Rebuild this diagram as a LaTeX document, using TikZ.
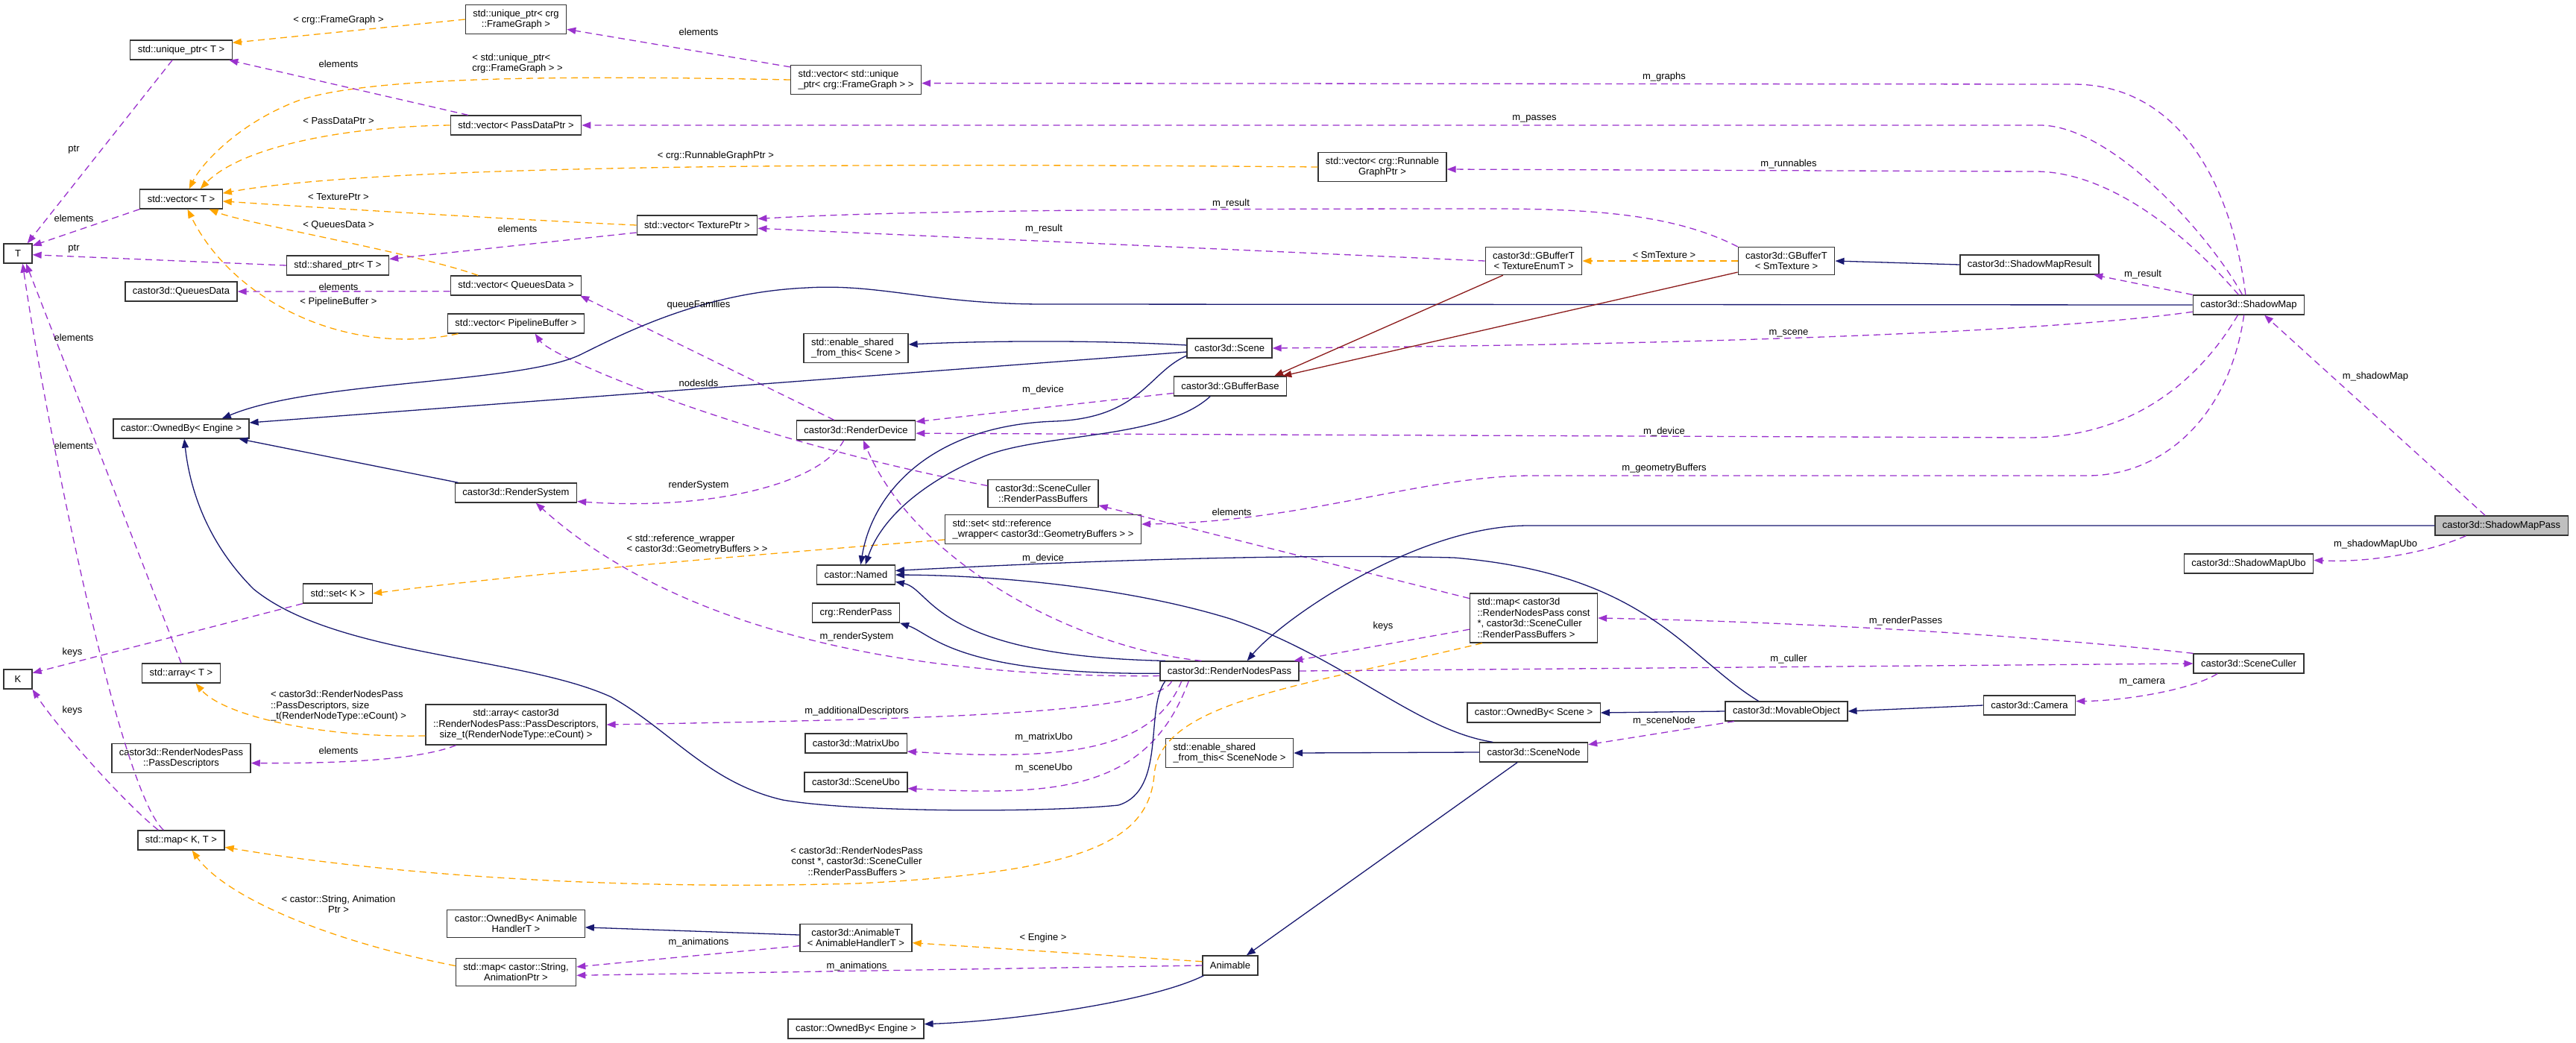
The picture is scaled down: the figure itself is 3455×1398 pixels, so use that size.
\documentclass[tikz,border=0pt]{standalone}
\usepackage{fontspec}
\setmainfont{Liberation Sans}
\usetikzlibrary{arrows.meta}
\definecolor{usecol}{HTML}{9A32CD}
\definecolor{tplcol}{HTML}{FFA500}
\definecolor{inhcol}{HTML}{191970}
\definecolor{privcol}{HTML}{8B1A1A}
\newcommand{\dxfont}{\fontsize{13pt}{14.5pt}\selectfont}

\begin{document}
\begin{tikzpicture}[x=1pt, y=-1pt,
    cls/.style={draw=black!80, line width=1.3pt, fill=white, font=\dxfont,
        inner xsep=10pt, inner ysep=6.5pt, minimum height=26pt, minimum width=38pt, align=center},
    clsl/.style={cls, align=left},
    focus/.style={cls, fill=black!25},
    lbl/.style={font=\dxfont, inner sep=0pt, align=center},
    lbll/.style={lbl, align=left},
    usage/.style={draw=usecol, line width=1.3pt, dash pattern=on 9pt off 6pt,
        -{Triangle[length=12pt,width=9pt]}},
    tmpl/.style={usage, draw=tplcol},
    inh/.style={draw=inhcol, line width=1.3pt, -{Triangle[length=12pt,width=9pt]}},
    priv/.style={inh, draw=privcol}]

    % Frame
    \useasboundingbox (0,0) rectangle (3455,1398);

    % Std containers, left part
    \node[cls] (uptrFG) at (692,26) {std::unique\_ptr< crg\\::FrameGraph >};
    \node[cls] (uptrT) at (243,67) {std::unique\_ptr< T >};
    \node[cls] (vecPass) at (692,168) {std::vector< PassDataPtr >};
    \node[clsl] (vecUFG) at (1148,107) {std::vector< std::unique\\\_ptr< crg::FrameGraph > >};
    \node[cls] (vecRun) at (1854,224) {std::vector< crg::Runnable\\GraphPtr >};
    \node[cls] (vecT) at (243,267) {std::vector< T >};
    \node[cls] (vecTex) at (935,302) {std::vector< TexturePtr >};
    \node[cls] (T) at (24,340) {T};
    \node[cls] (sptrT) at (453,356) {std::shared\_ptr< T >};
    \node[cls] (queues) at (243,391) {castor3d::QueuesData};
    \node[cls] (vecQueues) at (692,383) {std::vector< QueuesData >};
    \node[cls] (vecPipe) at (692,434) {std::vector< PipelineBuffer >};
    \node[cls] (setK) at (453,796) {std::set< K >};
    \node[cls] (K) at (24,911) {K};
    \node[cls] (arrayT) at (243,903) {std::array< T >};
    \node[cls] (arrayPD) at (692,972) {std::array< castor3d\\::RenderNodesPass::PassDescriptors,\\size\_t(RenderNodeType::eCount) >};
    \node[cls] (passDesc) at (243,1017) {castor3d::RenderNodesPass\\::PassDescriptors};
    \node[cls] (mapKT) at (243,1127) {std::map< K, T >};
    \node[cls] (ownedAnim) at (692,1239) {castor::OwnedBy< Animable\\HandlerT >};
    \node[cls] (mapAnim) at (692,1304) {std::map< castor::String,\\AnimationPtr >};
    \node[cls] (ownedEngine) at (243,575) {castor::OwnedBy< Engine >};
    \node[cls] (renderSystem) at (692,661) {castor3d::RenderSystem};

    % Middle
    \node[clsl] (esftScene) at (1148,467) {std::enable\_shared\\\_from\_this< Scene >};
    \node[cls] (device) at (1148,577) {castor3d::RenderDevice};
    \node[cls] (rpBuffers) at (1399,662) {castor3d::SceneCuller\\::RenderPassBuffers};
    \node[clsl] (setRef) at (1399,710) {std::set< std::reference\\\_wrapper< castor3d::GeometryBuffers > >};
    \node[cls] (named) at (1148,771) {castor::Named};
    \node[cls] (renderPass) at (1148,822) {crg::RenderPass};
    \node[cls] (matrixUbo) at (1148,997) {castor3d::MatrixUbo};
    \node[cls] (sceneUbo) at (1148,1049) {castor3d::SceneUbo};
    \node[cls] (animableT) at (1148,1258) {castor3d::AnimableT\\< AnimableHandlerT >};
    \node[cls] (ownedEngine2) at (1148,1380) {castor::OwnedBy< Engine >};
    \node[cls] (scene) at (1649,467) {castor3d::Scene};
    \node[cls] (gbufBase) at (1650,518) {castor3d::GBufferBase};
    \node[cls] (nodesPass) at (1649,900) {castor3d::RenderNodesPass};
    \node[clsl] (esftNode) at (1649,1010) {std::enable\_shared\\\_from\_this< SceneNode >};
    \node[cls] (animable) at (1650,1295) {Animable};

    % Right part
    \node[cls] (gbufTE) at (2057,350) {castor3d::GBufferT\\< TextureEnumT >};
    \node[cls] (gbufSM) at (2396,350) {castor3d::GBufferT\\< SmTexture >};
    \node[clsl] (mapRNP) at (2057,829) {std::map< castor3d\\::RenderNodesPass const\\ *, castor3d::SceneCuller\\ ::RenderPassBuffers >};
    \node[cls] (ownedScene) at (2057,956) {castor::OwnedBy< Scene >};
    \node[cls] (sceneNode) at (2057,1009) {castor3d::SceneNode};
    \node[cls] (movable) at (2396,954) {castor3d::MovableObject};
    \node[cls] (smResult) at (2722,355) {castor3d::ShadowMapResult};
    \node[cls] (camera) at (2722,946) {castor3d::Camera};
    \node[cls] (shadowMap) at (3016,409) {castor3d::ShadowMap};
    \node[cls] (smUbo) at (3016,756) {castor3d::ShadowMapUbo};
    \node[cls] (culler) at (3016,890) {castor3d::SceneCuller};
    \node[focus] (shadowMapPass) at (3355,705) {castor3d::ShadowMapPass};

    % Template instances
    \draw[tmpl] (uptrFG.west) -- (uptrT.8);
    \draw[tmpl] (vecUFG.west) .. controls (800,102) and (500,100) .. (400,135) .. controls (320,165) and (270,220) .. (vecT.52);
    \draw[tmpl] (vecPass.west) .. controls (450,170) and (320,200) .. (vecT.28);
    \draw[tmpl] (vecRun.west) .. controls (1100,218) and (500,222) .. (vecT.8);
    \draw[tmpl] (vecTex.west) .. controls (700,295) and (450,280) .. (vecT.-3);
    \draw[tmpl] (vecQueues.165) .. controls (560,340) and (330,300) .. (vecT.-20);
    \draw[tmpl] (vecPipe.190) .. controls (460,480) and (310,400) .. (vecT.-58);
    \draw[tmpl] (setRef.186) .. controls (1000,745) and (700,770) .. (setK.east);
    \draw[tmpl] (arrayPD.187) .. controls (430,990) and (300,960) .. (arrayT.-35);
    \draw[tmpl] (mapRNP.206) .. controls (1750,920) and (1555,940) .. (1548,1040) .. controls (1540,1130) and (1450,1170) .. (1150,1185) .. controls (800,1195) and (500,1170) .. (mapKT.-9);
    \draw[tmpl] (mapAnim.174) .. controls (430,1260) and (300,1200) .. (mapKT.-43);
    \draw[tmpl] (animable.172) -- (animableT.-5);
    \draw[tmpl] (gbufSM.west) -- (gbufTE.east);

    % Usage
    \draw[usage] (uptrT.-131) -- (T.47);
    \draw[usage] (vecT.south west) -- (T.28);
    \draw[usage] (sptrT.west) -- (T.-5);
    \draw[usage] (vecPass.168) -- (uptrT.-12);
    \draw[usage] (vecUFG.169) -- (uptrFG.-11);
    \draw[usage] (vecTex.187) -- (sptrT.7);
    \draw[usage] (vecQueues.185) -- (queues.east);
    \draw[usage] (arrayT.north) -- (T.-51);
    \draw[usage] (mapKT.150) .. controls (160,1060) and (60,560) .. (T.-65);
    \draw[usage] (mapKT.156) .. controls (170,1080) and (80,980) .. (K.-35);
    \draw[usage] (setK.south west) -- (K.23);
    \draw[usage] (device.155) -- (vecQueues.-9);
    \draw[usage] (rpBuffers.172) .. controls (1000,590) and (740,480) .. (vecPipe.-28);
    \draw[usage] (device.-140) .. controls (1100,650) and (950,685) .. (renderSystem.-8);
    \draw[usage] (nodesPass.184) .. controls (1150,910) and (880,820) .. (renderSystem.-27);
    \draw[usage] (nodesPass.160) .. controls (1450,870) and (1230,760) .. (device.-54);
    \draw[usage] (gbufBase.187) -- (device.8);
    \draw[usage] (shadowMap.-137) .. controls (2950,510) and (2860,587) .. (2720,587) -- (device.-3);
    \draw[usage] (gbufSM.north west) .. controls (2250,290) and (2150,280) .. (2000,280) .. controls (1500,280) and (1200,283) .. (vecTex.6);
    \draw[usage] (gbufTE.west) -- (vecTex.-3);
    \draw[usage] (shadowMap.107) .. controls (2995,260) and (2930,113) .. (2780,113) -- (vecUFG.-3);
    \draw[usage] (shadowMap.122) .. controls (2960,310) and (2830,168) .. (2736,168) -- (vecPass.east);
    \draw[usage] (shadowMap.135) .. controls (2920,300) and (2820,230) .. (2730,230) -- (vecRun.-2);
    \draw[usage] (shadowMapPass.148) -- (shadowMap.-33);
    \draw[usage] (shadowMap.north west) -- (smResult.-9);
    \draw[usage] (shadowMap.187) .. controls (2750,445) and (2300,462) .. (scene.east);
    \draw[usage] (shadowMap.-115) .. controls (2990,560) and (2900,638) .. (2800,638) -- (2050,638) .. controls (1900,640) and (1750,700) .. (setRef.3);
    \draw[usage] (mapRNP.163) -- (rpBuffers.-12);
    \draw[usage] (mapRNP.190) -- (nodesPass.9);
    \draw[usage] (culler.north west) .. controls (2750,855) and (2450,835) .. (mapRNP.east);
    \draw[usage] (nodesPass.east) -- (culler.west);
    \draw[usage] (culler.-162) .. controls (2940,925) and (2850,940) .. (camera.5);
    \draw[usage] (movable.-169) -- (sceneNode.8);
    \draw[usage] (shadowMapPass.-164) .. controls (3260,740) and (3180,755) .. (smUbo.3);
    \draw[usage] (nodesPass.-170) .. controls (1550,960) and (1200,965) .. (arrayPD.east);
    \draw[usage] (arrayPD.-161) .. controls (560,1020) and (450,1024) .. (passDesc.-4);
    \draw[usage] (nodesPass.-168) .. controls (1545,1010) and (1420,1020) .. (matrixUbo.-9);
    \draw[usage] (nodesPass.-166) .. controls (1540,1060) and (1420,1068) .. (sceneUbo.-7);
    \draw[usage] (animableT.188) -- (mapAnim.5);
    \draw[usage] (animable.west) -- (mapAnim.-3);

    % Inheritance
    \draw[inh] (shadowMap.west) -- (1400,408) .. controls (1250,408) and (1180,380) .. (1082,386) .. controls (950,392) and (850,440) .. (780,475) .. controls (700,515) and (420,510) .. (ownedEngine.14);
    \draw[inh] (scene.185) -- (ownedEngine.5);
    \draw[inh] (scene.176) .. controls (1450,455) and (1300,458) .. (esftScene.4);
    \draw[inh] (renderSystem.170) -- (ownedEngine.-10);
    \draw[inh] (nodesPass.-171) .. controls (1535,950) and (1565,1060) .. (1500,1080) .. controls (1400,1090) and (1150,1090) .. (1050,1073) .. controls (950,1050) and (900,980) .. (820,935) .. controls (700,880) and (450,880) .. (340,790) .. controls (280,730) and (255,660) .. (ownedEngine.-73);
    \draw[inh] (nodesPass.171) .. controls (1250,880) and (1250,790) .. (named.-10);
    \draw[inh] (nodesPass.182) .. controls (1280,905) and (1250,850) .. (renderPass.-13);
    \draw[inh] (scene.-170) .. controls (1540,500) and (1530,560) .. (1416,565) .. controls (1250,570) and (1170,660) .. (named.65);
    \draw[inh] (gbufBase.-153) .. controls (1560,590) and (1400,580) .. (1320,612) .. controls (1230,650) and (1180,700) .. (named.47);
    \draw[inh] (movable.160) .. controls (2260,880) and (2210,770) .. (1950,748) .. controls (1700,742) and (1400,755) .. (named.6);
    \draw[inh] (sceneNode.166) .. controls (1900,980) and (1800,880) .. (1650,830) .. controls (1520,790) and (1350,772) .. (named.east);
    \draw[inh] (shadowMapPass.west) -- (2050,705) .. controls (1900,705) and (1720,830) .. (nodesPass.30);
    \draw[inh] (sceneNode.west) -- (esftNode.east);
    \draw[inh] (sceneNode.-148) -- (animable.32);
    \draw[inh] (movable.west) -- (ownedScene.east);
    \draw[inh] (camera.west) -- (movable.east);
    \draw[inh] (smResult.west) -- (gbufSM.east);
    \draw[inh] (animableT.177) -- (ownedAnim.-3);
    \draw[inh] (animable.-159) .. controls (1540,1345) and (1350,1370) .. (ownedEngine2.4);
    \draw[priv] (gbufTE.-155) -- (gbufBase.13);
    \draw[priv] (gbufSM.-167) -- (gbufBase.11);

    % Edge labels
    \node[lbl] (lFG) at (454,27) {< crg::FrameGraph >};
    \node[lbll] (lUFG) at (694,85) {< std::unique\_ptr<\\crg::FrameGraph > >};
    \node[lbl] (lPass) at (454,162) {< PassDataPtr >};
    \node[lbl] (lRun) at (960,209) {< crg::RunnableGraphPtr >};
    \node[lbl] (lTex) at (454,264) {< TexturePtr >};
    \node[lbl] (lQueues) at (454,302) {< QueuesData >};
    \node[lbl] (lPipe) at (454,405) {< PipelineBuffer >};
    \node[lbll] (lRef) at (935,730) {< std::reference\_wrapper\\< castor3d::GeometryBuffers > >};
    \node[lbll] (lPD) at (454,947) {< castor3d::RenderNodesPass\\::PassDescriptors, size\\\_t(RenderNodeType::eCount) >};
    \node[lbl] (lRNP) at (1149,1155) {< castor3d::RenderNodesPass\\const *, castor3d::SceneCuller\\::RenderPassBuffers >};
    \node[lbl] (lAnim) at (454,1213) {< castor::String, Animation\\Ptr >};
    \node[lbl] (lEngine) at (1399,1258) {< Engine >};
    \node[lbl] (lSm) at (2232,342) {< SmTexture >};
    \node[lbl] (lPtr1) at (99,201) {ptr};
    \node[lbl] (lElT) at (99,293) {elements};
    \node[lbl] (lPtr2) at (99,334) {ptr};
    \node[lbl] (lElPass) at (454,86) {elements};
    \node[lbl] (lElUFG) at (937,43) {elements};
    \node[lbl] (lElTex) at (694,307) {elements};
    \node[lbl] (lElQueues) at (454,385) {elements};
    \node[lbl] (lElArray) at (99,598) {elements};
    \node[lbl] (lElMap) at (99,453) {elements};
    \node[lbl] (lKeysMap) at (97,953) {keys};
    \node[lbl] (lKeysSet) at (97,875) {keys};
    \node[lbl] (lQueueFam) at (937,409) {queueFamilies};
    \node[lbl] (lNodesIds) at (937,514) {nodesIds};
    \node[lbl] (lRenderSys) at (937,651) {renderSystem};
    \node[lbl] (lMRenderSys) at (1149,854) {m\_renderSystem};
    \node[lbl] (lDevPass) at (1399,749) {m\_device};
    \node[lbl] (lDevGbuf) at (1399,523) {m\_device};
    \node[lbl] (lDevSm) at (2232,579) {m\_device};
    \node[lbl] (lResSm) at (1651,273) {m\_result};
    \node[lbl] (lResTE) at (1400,307) {m\_result};
    \node[lbl] (lGraphs) at (2232,103) {m\_graphs};
    \node[lbl] (lPasses) at (2058,159) {m\_passes};
    \node[lbl] (lRunnables) at (2399,220) {m\_runnables};
    \node[lbl] (lShadowMap) at (3186,505) {m\_shadowMap};
    \node[lbl] (lResult) at (2874,368) {m\_result};
    \node[lbl] (lScene) at (2399,447) {m\_scene};
    \node[lbl] (lGeom) at (2232,628) {m\_geometryBuffers};
    \node[lbl] (lElRP) at (1652,687) {elements};
    \node[lbl] (lKeysRNP) at (1855,840) {keys};
    \node[lbl] (lRPasses) at (2556,833) {m\_renderPasses};
    \node[lbl] (lCuller) at (2399,884) {m\_culler};
    \node[lbl] (lCamera) at (2873,915) {m\_camera};
    \node[lbl] (lSceneNode) at (2232,967) {m\_sceneNode};
    \node[lbl] (lSmUbo) at (3186,730) {m\_shadowMapUbo};
    \node[lbl] (lAddDesc) at (1149,954) {m\_additionalDescriptors};
    \node[lbl] (lElPD) at (454,1007) {elements};
    \node[lbl] (lMatrix) at (1400,989) {m\_matrixUbo};
    \node[lbl] (lSceneUbo) at (1400,1030) {m\_sceneUbo};
    \node[lbl] (lAnimT) at (937,1264) {m\_animations};
    \node[lbl] (lAnimA) at (1149,1296) {m\_animations};
\end{tikzpicture}
\end{document}
